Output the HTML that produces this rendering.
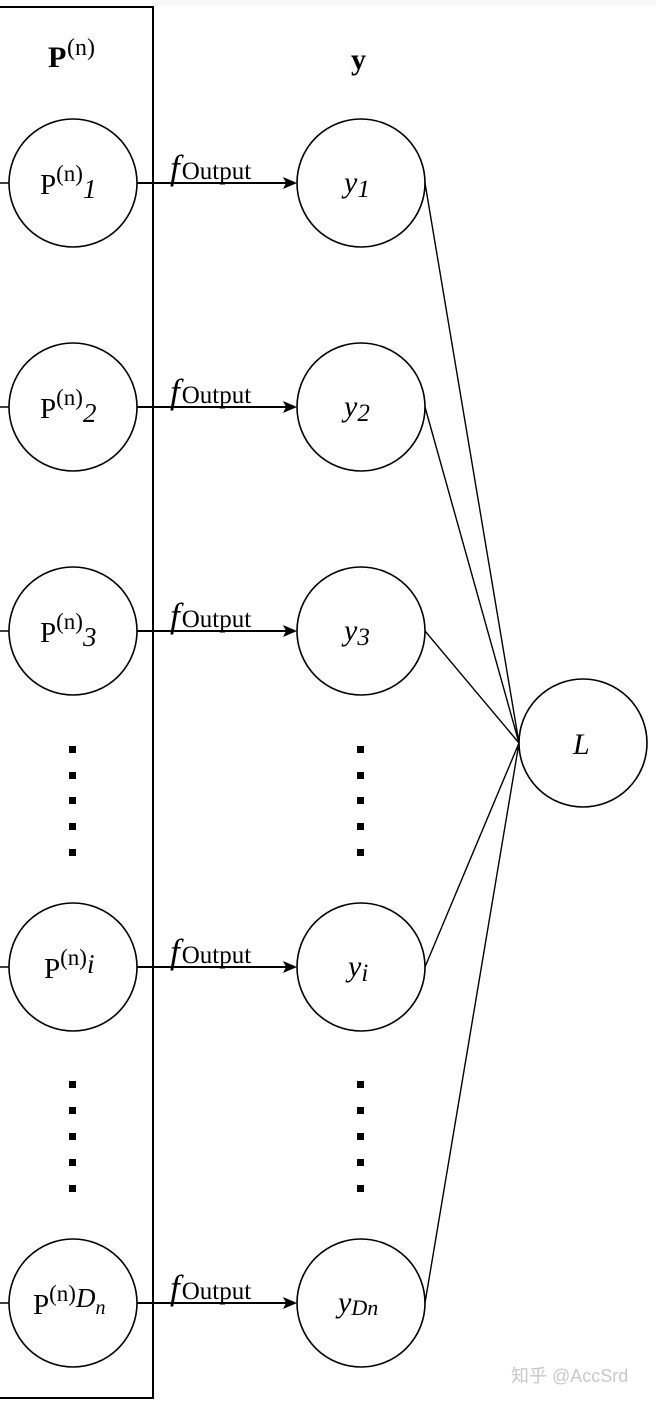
<!DOCTYPE html>
<html><head><meta charset="utf-8"><style>
html,body{margin:0;padding:0;background:#fff;}
svg{display:block;}
text{font-family:"Liberation Serif",serif;fill:#000;}
</style></head><body>
<svg width="656" height="1403" viewBox="0 0 656 1403" xmlns="http://www.w3.org/2000/svg">
<rect x="153" y="0" width="503" height="6" fill="#f6f8fb"/>
<rect x="-2" y="7" width="155" height="1391" fill="none" stroke="#000" stroke-width="2"/>
<text x="48" y="67" font-size="30" font-weight="bold">P</text><text x="67" y="55" font-size="24">(n)</text>
<text x="351" y="69" font-size="30" font-weight="bold">y</text>
<g stroke="#000" stroke-width="1.6" fill="none">
<circle cx="73" cy="183" r="64"/><circle cx="73" cy="407" r="64"/><circle cx="73" cy="631" r="64"/><circle cx="73" cy="967" r="64"/><circle cx="73" cy="1303" r="64"/>
<circle cx="361" cy="183" r="64"/><circle cx="361" cy="407" r="64"/><circle cx="361" cy="631" r="64"/><circle cx="361" cy="967" r="64"/><circle cx="361" cy="1303" r="64"/>
<circle cx="583" cy="743" r="64"/>
<path d="M0 183H9M0 407H9M0 631H9M0 967H9M0 1303H9"/>
<path d="M425 183L519 743M425 407L519 743M425 631L519 743M425 967L519 743M425 1303L519 743" stroke-width="1.4"/>
</g>
<g stroke="#000" stroke-width="2">
<line x1="137" y1="183" x2="286" y2="183"/><line x1="137" y1="407" x2="286" y2="407"/><line x1="137" y1="631" x2="286" y2="631"/><line x1="137" y1="967" x2="286" y2="967"/><line x1="137" y1="1303" x2="286" y2="1303"/>
</g>
<g fill="#000">
<path d="M283 177L297 183L283 189L286 183Z"/><path d="M283 401L297 407L283 413L286 407Z"/><path d="M283 625L297 631L283 637L286 631Z"/><path d="M283 961L297 967L283 973L286 967Z"/><path d="M283 1297L297 1303L283 1309L286 1303Z"/>
<rect x="69" y="746" width="7" height="7"/><rect x="69" y="772" width="7" height="7"/><rect x="69" y="797" width="7" height="7"/><rect x="69" y="823" width="7" height="7"/><rect x="69" y="849" width="7" height="7"/>
<rect x="357" y="746" width="7" height="7"/><rect x="357" y="772" width="7" height="7"/><rect x="357" y="797" width="7" height="7"/><rect x="357" y="823" width="7" height="7"/><rect x="357" y="849" width="7" height="7"/>
<rect x="69" y="1081" width="7" height="7"/><rect x="69" y="1107" width="7" height="7"/><rect x="69" y="1133" width="7" height="7"/><rect x="69" y="1159" width="7" height="7"/><rect x="69" y="1185" width="7" height="7"/>
<rect x="357" y="1081" width="7" height="7"/><rect x="357" y="1107" width="7" height="7"/><rect x="357" y="1133" width="7" height="7"/><rect x="357" y="1159" width="7" height="7"/><rect x="357" y="1185" width="7" height="7"/>
</g>
<g font-size="29">
<text x="170" y="179"><tspan font-style="italic" font-size="35">f</tspan><tspan font-size="25" dx="2">Output</tspan></text>
<text x="170" y="403"><tspan font-style="italic" font-size="35">f</tspan><tspan font-size="25" dx="2">Output</tspan></text>
<text x="170" y="627"><tspan font-style="italic" font-size="35">f</tspan><tspan font-size="25" dx="2">Output</tspan></text>
<text x="170" y="963"><tspan font-style="italic" font-size="35">f</tspan><tspan font-size="25" dx="2">Output</tspan></text>
<text x="170" y="1299"><tspan font-style="italic" font-size="35">f</tspan><tspan font-size="25" dx="2">Output</tspan></text>
<text x="40" y="194">P<tspan font-size="23" dy="-13">(n)</tspan><tspan font-style="italic" font-size="27" dy="17">1</tspan></text>
<text x="40" y="418">P<tspan font-size="23" dy="-13">(n)</tspan><tspan font-style="italic" font-size="27" dy="17">2</tspan></text>
<text x="40" y="642">P<tspan font-size="23" dy="-13">(n)</tspan><tspan font-style="italic" font-size="27" dy="17">3</tspan></text>
<text x="44" y="978">P<tspan font-size="23" dy="-13">(n)</tspan><tspan font-style="italic" font-size="27" dy="8">i</tspan></text>
<text x="33" y="1314">P<tspan font-size="23" dy="-13">(n)</tspan><tspan font-style="italic" font-size="27" dy="6">D</tspan><tspan font-style="italic" font-size="20" dy="7">n</tspan></text>
<text x="344" y="192" font-style="italic" font-size="30">y<tspan font-size="25" dy="5">1</tspan></text>
<text x="344" y="416" font-style="italic" font-size="30">y<tspan font-size="25" dy="5">2</tspan></text>
<text x="344" y="640" font-style="italic" font-size="30">y<tspan font-size="25" dy="5">3</tspan></text>
<text x="348" y="976" font-style="italic" font-size="30">y<tspan font-size="25" dy="5">i</tspan></text>
<text x="338" y="1312" font-style="italic" font-size="30">y<tspan font-size="22" dy="3">Dn</tspan></text>
<text x="573" y="754" font-style="italic" font-size="30">L</text>
</g>
<text x="511" y="1382" font-size="18" style="fill:#c8c8c8;font-family:'Liberation Sans','Noto Sans CJK SC',sans-serif">知乎 @AccSrd</text>
</svg>
</body></html>
